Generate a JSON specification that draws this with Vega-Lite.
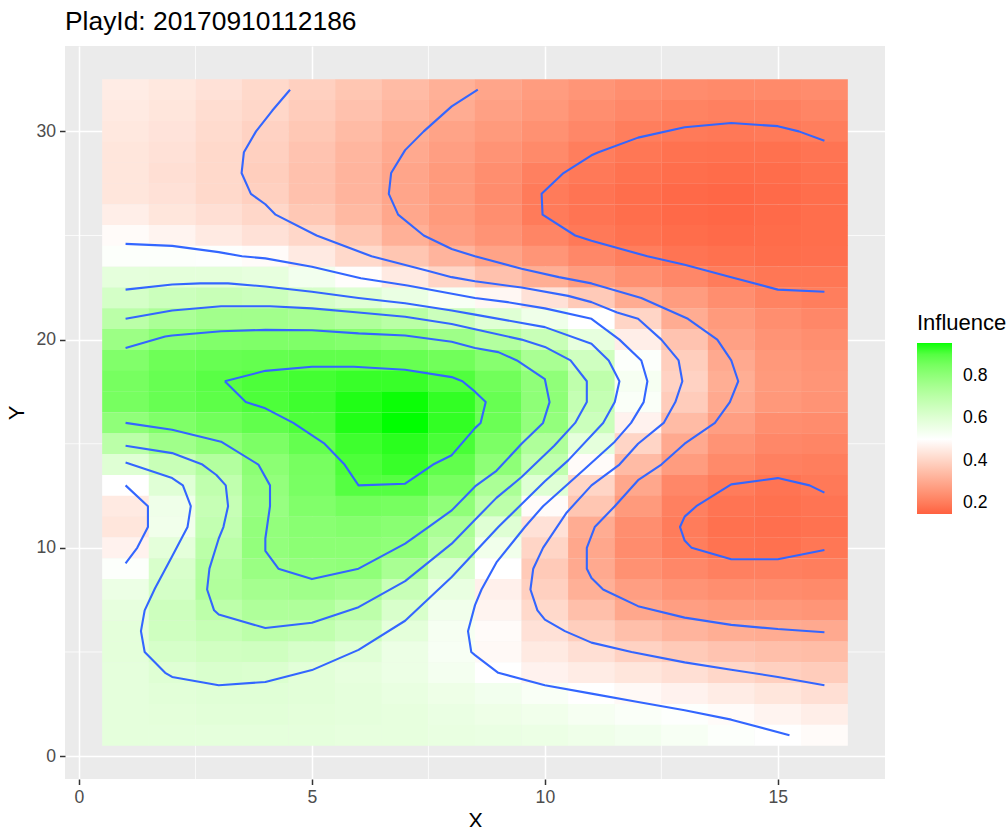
{"$schema":"https://vega.github.io/schema/vega-lite/v6.json","width":820,"height":733,"autosize":"none","padding":{"left":65,"top":46,"right":123,"bottom":48},"background":"white","title":{"text":"PlayId: 20170910112186","anchor":"start","frame":"group","font":"Liberation Sans","fontSize":26.4,"fontWeight":"normal","color":"#000000","offset":10},"config":{"font":"Liberation Sans","view":{"fill":"#EBEBEB","stroke":null}},"datasets":{"cells":[
{"x":1,"y":32,"v":0.455},{"x":2,"y":32,"v":0.445},{"x":3,"y":32,"v":0.43},{"x":4,"y":32,"v":0.41},{"x":5,"y":32,"v":0.39},{"x":6,"y":32,"v":0.365},{"x":7,"y":32,"v":0.34},{"x":8,"y":32,"v":0.315},{"x":9,"y":32,"v":0.29},{"x":10,"y":32,"v":0.27},{"x":11,"y":32,"v":0.255},{"x":12,"y":32,"v":0.24},{"x":13,"y":32,"v":0.235},{"x":14,"y":32,"v":0.23},{"x":15,"y":32,"v":0.23},{"x":16,"y":32,"v":0.235},
{"x":1,"y":31,"v":0.45},{"x":2,"y":31,"v":0.44},{"x":3,"y":31,"v":0.42},{"x":4,"y":31,"v":0.405},{"x":5,"y":31,"v":0.38},{"x":6,"y":31,"v":0.355},{"x":7,"y":31,"v":0.33},{"x":8,"y":31,"v":0.305},{"x":9,"y":31,"v":0.28},{"x":10,"y":31,"v":0.26},{"x":11,"y":31,"v":0.24},{"x":12,"y":31,"v":0.225},{"x":13,"y":31,"v":0.215},{"x":14,"y":31,"v":0.21},{"x":15,"y":31,"v":0.21},{"x":16,"y":31,"v":0.22},
{"x":1,"y":30,"v":0.445},{"x":2,"y":30,"v":0.435},{"x":3,"y":30,"v":0.415},{"x":4,"y":30,"v":0.395},{"x":5,"y":30,"v":0.37},{"x":6,"y":30,"v":0.34},{"x":7,"y":30,"v":0.31},{"x":8,"y":30,"v":0.285},{"x":9,"y":30,"v":0.265},{"x":10,"y":30,"v":0.245},{"x":11,"y":30,"v":0.225},{"x":12,"y":30,"v":0.205},{"x":13,"y":30,"v":0.197},{"x":14,"y":30,"v":0.193},{"x":15,"y":30,"v":0.196},{"x":16,"y":30,"v":0.205},
{"x":1,"y":29,"v":0.44},{"x":2,"y":29,"v":0.43},{"x":3,"y":29,"v":0.41},{"x":4,"y":29,"v":0.39},{"x":5,"y":29,"v":0.36},{"x":6,"y":29,"v":0.33},{"x":7,"y":29,"v":0.3},{"x":8,"y":29,"v":0.275},{"x":9,"y":29,"v":0.25},{"x":10,"y":29,"v":0.23},{"x":11,"y":29,"v":0.205},{"x":12,"y":29,"v":0.19},{"x":13,"y":29,"v":0.18},{"x":14,"y":29,"v":0.178},{"x":15,"y":29,"v":0.178},{"x":16,"y":29,"v":0.185},
{"x":1,"y":28,"v":0.44},{"x":2,"y":28,"v":0.425},{"x":3,"y":28,"v":0.41},{"x":4,"y":28,"v":0.385},{"x":5,"y":28,"v":0.355},{"x":6,"y":28,"v":0.325},{"x":7,"y":28,"v":0.29},{"x":8,"y":28,"v":0.265},{"x":9,"y":28,"v":0.24},{"x":10,"y":28,"v":0.21},{"x":11,"y":28,"v":0.195},{"x":12,"y":28,"v":0.18},{"x":13,"y":28,"v":0.172},{"x":14,"y":28,"v":0.168},{"x":15,"y":28,"v":0.17},{"x":16,"y":28,"v":0.178},
{"x":1,"y":27,"v":0.44},{"x":2,"y":27,"v":0.43},{"x":3,"y":27,"v":0.41},{"x":4,"y":27,"v":0.39},{"x":5,"y":27,"v":0.355},{"x":6,"y":27,"v":0.325},{"x":7,"y":27,"v":0.29},{"x":8,"y":27,"v":0.265},{"x":9,"y":27,"v":0.235},{"x":10,"y":27,"v":0.198},{"x":11,"y":27,"v":0.185},{"x":12,"y":27,"v":0.172},{"x":13,"y":27,"v":0.163},{"x":14,"y":27,"v":0.16},{"x":15,"y":27,"v":0.165},{"x":16,"y":27,"v":0.172},
{"x":1,"y":26,"v":0.46},{"x":2,"y":26,"v":0.44},{"x":3,"y":26,"v":0.425},{"x":4,"y":26,"v":0.405},{"x":5,"y":26,"v":0.37},{"x":6,"y":26,"v":0.335},{"x":7,"y":26,"v":0.295},{"x":8,"y":26,"v":0.265},{"x":9,"y":26,"v":0.24},{"x":10,"y":26,"v":0.198},{"x":11,"y":26,"v":0.185},{"x":12,"y":26,"v":0.172},{"x":13,"y":26,"v":0.163},{"x":14,"y":26,"v":0.16},{"x":15,"y":26,"v":0.165},{"x":16,"y":26,"v":0.172},
{"x":1,"y":25,"v":0.49},{"x":2,"y":25,"v":0.475},{"x":3,"y":25,"v":0.45},{"x":4,"y":25,"v":0.43},{"x":5,"y":25,"v":0.405},{"x":6,"y":25,"v":0.365},{"x":7,"y":25,"v":0.315},{"x":8,"y":25,"v":0.275},{"x":9,"y":25,"v":0.25},{"x":10,"y":25,"v":0.22},{"x":11,"y":25,"v":0.195},{"x":12,"y":25,"v":0.18},{"x":13,"y":25,"v":0.17},{"x":14,"y":25,"v":0.165},{"x":15,"y":25,"v":0.168},{"x":16,"y":25,"v":0.172},
{"x":1,"y":24,"v":0.51},{"x":2,"y":24,"v":0.51},{"x":3,"y":24,"v":0.505},{"x":4,"y":24,"v":0.49},{"x":5,"y":24,"v":0.45},{"x":6,"y":24,"v":0.41},{"x":7,"y":24,"v":0.365},{"x":8,"y":24,"v":0.325},{"x":9,"y":24,"v":0.285},{"x":10,"y":24,"v":0.255},{"x":11,"y":24,"v":0.225},{"x":12,"y":24,"v":0.205},{"x":13,"y":24,"v":0.185},{"x":14,"y":24,"v":0.178},{"x":15,"y":24,"v":0.172},{"x":16,"y":24,"v":0.175},
{"x":1,"y":23,"v":0.58},{"x":2,"y":23,"v":0.585},{"x":3,"y":23,"v":0.585},{"x":4,"y":23,"v":0.575},{"x":5,"y":23,"v":0.54},{"x":6,"y":23,"v":0.495},{"x":7,"y":23,"v":0.45},{"x":8,"y":23,"v":0.4},{"x":9,"y":23,"v":0.355},{"x":10,"y":23,"v":0.31},{"x":11,"y":23,"v":0.27},{"x":12,"y":23,"v":0.245},{"x":13,"y":23,"v":0.225},{"x":14,"y":23,"v":0.2},{"x":15,"y":23,"v":0.19},{"x":16,"y":23,"v":0.19},
{"x":1,"y":22,"v":0.63},{"x":2,"y":22,"v":0.655},{"x":3,"y":22,"v":0.665},{"x":4,"y":22,"v":0.655},{"x":5,"y":22,"v":0.625},{"x":6,"y":22,"v":0.6},{"x":7,"y":22,"v":0.565},{"x":8,"y":22,"v":0.525},{"x":9,"y":22,"v":0.48},{"x":10,"y":22,"v":0.43},{"x":11,"y":22,"v":0.375},{"x":12,"y":22,"v":0.305},{"x":13,"y":22,"v":0.27},{"x":14,"y":22,"v":0.24},{"x":15,"y":22,"v":0.215},{"x":16,"y":22,"v":0.205},
{"x":1,"y":21,"v":0.7},{"x":2,"y":21,"v":0.74},{"x":3,"y":21,"v":0.76},{"x":4,"y":21,"v":0.76},{"x":5,"y":21,"v":0.75},{"x":6,"y":21,"v":0.73},{"x":7,"y":21,"v":0.705},{"x":8,"y":21,"v":0.655},{"x":9,"y":21,"v":0.6},{"x":10,"y":21,"v":0.55},{"x":11,"y":21,"v":0.5},{"x":12,"y":21,"v":0.4},{"x":13,"y":21,"v":0.305},{"x":14,"y":21,"v":0.265},{"x":15,"y":21,"v":0.24},{"x":16,"y":21,"v":0.225},
{"x":1,"y":20,"v":0.775},{"x":2,"y":20,"v":0.815},{"x":3,"y":20,"v":0.83},{"x":4,"y":20,"v":0.835},{"x":5,"y":20,"v":0.835},{"x":6,"y":20,"v":0.825},{"x":7,"y":20,"v":0.81},{"x":8,"y":20,"v":0.77},{"x":9,"y":20,"v":0.72},{"x":10,"y":20,"v":0.665},{"x":11,"y":20,"v":0.575},{"x":12,"y":20,"v":0.46},{"x":13,"y":20,"v":0.36},{"x":14,"y":20,"v":0.28},{"x":15,"y":20,"v":0.25},{"x":16,"y":20,"v":0.24},
{"x":1,"y":19,"v":0.83},{"x":2,"y":19,"v":0.865},{"x":3,"y":19,"v":0.875},{"x":4,"y":19,"v":0.88},{"x":5,"y":19,"v":0.885},{"x":6,"y":19,"v":0.885},{"x":7,"y":19,"v":0.875},{"x":8,"y":19,"v":0.86},{"x":9,"y":19,"v":0.82},{"x":10,"y":19,"v":0.745},{"x":11,"y":19,"v":0.645},{"x":12,"y":19,"v":0.51},{"x":13,"y":19,"v":0.385},{"x":14,"y":19,"v":0.3},{"x":15,"y":19,"v":0.26},{"x":16,"y":19,"v":0.25},
{"x":1,"y":18,"v":0.85},{"x":2,"y":18,"v":0.875},{"x":3,"y":18,"v":0.895},{"x":4,"y":18,"v":0.91},{"x":5,"y":18,"v":0.92},{"x":6,"y":18,"v":0.93},{"x":7,"y":18,"v":0.93},{"x":8,"y":18,"v":0.905},{"x":9,"y":18,"v":0.86},{"x":10,"y":18,"v":0.8},{"x":11,"y":18,"v":0.69},{"x":12,"y":18,"v":0.53},{"x":13,"y":18,"v":0.395},{"x":14,"y":18,"v":0.31},{"x":15,"y":18,"v":0.265},{"x":16,"y":18,"v":0.255},
{"x":1,"y":17,"v":0.85},{"x":2,"y":17,"v":0.875},{"x":3,"y":17,"v":0.89},{"x":4,"y":17,"v":0.91},{"x":5,"y":17,"v":0.925},{"x":6,"y":17,"v":0.945},{"x":7,"y":17,"v":0.952},{"x":8,"y":17,"v":0.935},{"x":9,"y":17,"v":0.875},{"x":10,"y":17,"v":0.805},{"x":11,"y":17,"v":0.675},{"x":12,"y":17,"v":0.515},{"x":13,"y":17,"v":0.38},{"x":14,"y":17,"v":0.3},{"x":15,"y":17,"v":0.26},{"x":16,"y":17,"v":0.25},
{"x":1,"y":16,"v":0.8},{"x":2,"y":16,"v":0.835},{"x":3,"y":16,"v":0.86},{"x":4,"y":16,"v":0.885},{"x":5,"y":16,"v":0.91},{"x":6,"y":16,"v":0.945},{"x":7,"y":16,"v":0.954},{"x":8,"y":16,"v":0.935},{"x":9,"y":16,"v":0.87},{"x":10,"y":16,"v":0.795},{"x":11,"y":16,"v":0.655},{"x":12,"y":16,"v":0.47},{"x":13,"y":16,"v":0.34},{"x":14,"y":16,"v":0.275},{"x":15,"y":16,"v":0.24},{"x":16,"y":16,"v":0.235},
{"x":1,"y":15,"v":0.7},{"x":2,"y":15,"v":0.765},{"x":3,"y":15,"v":0.8},{"x":4,"y":15,"v":0.84},{"x":5,"y":15,"v":0.88},{"x":6,"y":15,"v":0.925},{"x":7,"y":15,"v":0.94},{"x":8,"y":15,"v":0.915},{"x":9,"y":15,"v":0.84},{"x":10,"y":15,"v":0.73},{"x":11,"y":15,"v":0.58},{"x":12,"y":15,"v":0.4},{"x":13,"y":15,"v":0.3},{"x":14,"y":15,"v":0.25},{"x":15,"y":15,"v":0.225},{"x":16,"y":15,"v":0.22},
{"x":1,"y":14,"v":0.6},{"x":2,"y":14,"v":0.665},{"x":3,"y":14,"v":0.72},{"x":4,"y":14,"v":0.81},{"x":5,"y":14,"v":0.85},{"x":6,"y":14,"v":0.91},{"x":7,"y":14,"v":0.93},{"x":8,"y":14,"v":0.885},{"x":9,"y":14,"v":0.805},{"x":10,"y":14,"v":0.685},{"x":11,"y":14,"v":0.49},{"x":12,"y":14,"v":0.34},{"x":13,"y":14,"v":0.27},{"x":14,"y":14,"v":0.23},{"x":15,"y":14,"v":0.21},{"x":16,"y":14,"v":0.205},
{"x":1,"y":13,"v":0.5},{"x":2,"y":13,"v":0.595},{"x":3,"y":13,"v":0.685},{"x":4,"y":13,"v":0.795},{"x":5,"y":13,"v":0.845},{"x":6,"y":13,"v":0.9},{"x":7,"y":13,"v":0.9},{"x":8,"y":13,"v":0.85},{"x":9,"y":13,"v":0.74},{"x":10,"y":13,"v":0.6},{"x":11,"y":13,"v":0.4},{"x":12,"y":13,"v":0.295},{"x":13,"y":13,"v":0.225},{"x":14,"y":13,"v":0.2},{"x":15,"y":13,"v":0.185},{"x":16,"y":13,"v":0.195},
{"x":1,"y":12,"v":0.45},{"x":2,"y":12,"v":0.55},{"x":3,"y":12,"v":0.67},{"x":4,"y":12,"v":0.785},{"x":5,"y":12,"v":0.83},{"x":6,"y":12,"v":0.855},{"x":7,"y":12,"v":0.85},{"x":8,"y":12,"v":0.8},{"x":9,"y":12,"v":0.695},{"x":10,"y":12,"v":0.49},{"x":11,"y":12,"v":0.365},{"x":12,"y":12,"v":0.265},{"x":13,"y":12,"v":0.21},{"x":14,"y":12,"v":0.185},{"x":15,"y":12,"v":0.178},{"x":16,"y":12,"v":0.185},
{"x":1,"y":11,"v":0.44},{"x":2,"y":11,"v":0.545},{"x":3,"y":11,"v":0.68},{"x":4,"y":11,"v":0.795},{"x":5,"y":11,"v":0.815},{"x":6,"y":11,"v":0.825},{"x":7,"y":11,"v":0.815},{"x":8,"y":11,"v":0.74},{"x":9,"y":11,"v":0.6},{"x":10,"y":11,"v":0.43},{"x":11,"y":11,"v":0.305},{"x":12,"y":11,"v":0.24},{"x":13,"y":11,"v":0.2},{"x":14,"y":11,"v":0.178},{"x":15,"y":11,"v":0.175},{"x":16,"y":11,"v":0.18},
{"x":1,"y":10,"v":0.47},{"x":2,"y":10,"v":0.585},{"x":3,"y":10,"v":0.7},{"x":4,"y":10,"v":0.795},{"x":5,"y":10,"v":0.81},{"x":6,"y":10,"v":0.81},{"x":7,"y":10,"v":0.8},{"x":8,"y":10,"v":0.71},{"x":9,"y":10,"v":0.545},{"x":10,"y":10,"v":0.4},{"x":11,"y":10,"v":0.295},{"x":12,"y":10,"v":0.235},{"x":13,"y":10,"v":0.205},{"x":14,"y":10,"v":0.182},{"x":15,"y":10,"v":0.178},{"x":16,"y":10,"v":0.19},
{"x":1,"y":9,"v":0.51},{"x":2,"y":9,"v":0.62},{"x":3,"y":9,"v":0.72},{"x":4,"y":9,"v":0.78},{"x":5,"y":9,"v":0.795},{"x":6,"y":9,"v":0.8},{"x":7,"y":9,"v":0.745},{"x":8,"y":9,"v":0.615},{"x":9,"y":9,"v":0.5},{"x":10,"y":9,"v":0.375},{"x":11,"y":9,"v":0.3},{"x":12,"y":9,"v":0.245},{"x":13,"y":9,"v":0.225},{"x":14,"y":9,"v":0.21},{"x":15,"y":9,"v":0.21},{"x":16,"y":9,"v":0.205},
{"x":1,"y":8,"v":0.56},{"x":2,"y":8,"v":0.63},{"x":3,"y":8,"v":0.725},{"x":4,"y":8,"v":0.755},{"x":5,"y":8,"v":0.765},{"x":6,"y":8,"v":0.75},{"x":7,"y":8,"v":0.665},{"x":8,"y":8,"v":0.57},{"x":9,"y":8,"v":0.465},{"x":10,"y":8,"v":0.39},{"x":11,"y":8,"v":0.315},{"x":12,"y":8,"v":0.275},{"x":13,"y":8,"v":0.25},{"x":14,"y":8,"v":0.24},{"x":15,"y":8,"v":0.235},{"x":16,"y":8,"v":0.23},
{"x":1,"y":7,"v":0.575},{"x":2,"y":7,"v":0.65},{"x":3,"y":7,"v":0.695},{"x":4,"y":7,"v":0.73},{"x":5,"y":7,"v":0.73},{"x":6,"y":7,"v":0.695},{"x":7,"y":7,"v":0.62},{"x":8,"y":7,"v":0.545},{"x":9,"y":7,"v":0.475},{"x":10,"y":7,"v":0.41},{"x":11,"y":7,"v":0.35},{"x":12,"y":7,"v":0.295},{"x":13,"y":7,"v":0.275},{"x":14,"y":7,"v":0.265},{"x":15,"y":7,"v":0.26},{"x":16,"y":7,"v":0.255},
{"x":1,"y":6,"v":0.585},{"x":2,"y":6,"v":0.645},{"x":3,"y":6,"v":0.67},{"x":4,"y":6,"v":0.695},{"x":5,"y":6,"v":0.685},{"x":6,"y":6,"v":0.655},{"x":7,"y":6,"v":0.585},{"x":8,"y":6,"v":0.53},{"x":9,"y":6,"v":0.49},{"x":10,"y":6,"v":0.43},{"x":11,"y":6,"v":0.385},{"x":12,"y":6,"v":0.35},{"x":13,"y":6,"v":0.325},{"x":14,"y":6,"v":0.31},{"x":15,"y":6,"v":0.305},{"x":16,"y":6,"v":0.3},
{"x":1,"y":5,"v":0.585},{"x":2,"y":5,"v":0.625},{"x":3,"y":5,"v":0.64},{"x":4,"y":5,"v":0.645},{"x":5,"y":5,"v":0.625},{"x":6,"y":5,"v":0.595},{"x":7,"y":5,"v":0.56},{"x":8,"y":5,"v":0.525},{"x":9,"y":5,"v":0.485},{"x":10,"y":5,"v":0.45},{"x":11,"y":5,"v":0.425},{"x":12,"y":5,"v":0.395},{"x":13,"y":5,"v":0.375},{"x":14,"y":5,"v":0.36},{"x":15,"y":5,"v":0.35},{"x":16,"y":5,"v":0.345},
{"x":1,"y":4,"v":0.58},{"x":2,"y":4,"v":0.6},{"x":3,"y":4,"v":0.615},{"x":4,"y":4,"v":0.61},{"x":5,"y":4,"v":0.59},{"x":6,"y":4,"v":0.575},{"x":7,"y":4,"v":0.56},{"x":8,"y":4,"v":0.535},{"x":9,"y":4,"v":0.5},{"x":10,"y":4,"v":0.47},{"x":11,"y":4,"v":0.455},{"x":12,"y":4,"v":0.44},{"x":13,"y":4,"v":0.425},{"x":14,"y":4,"v":0.405},{"x":15,"y":4,"v":0.39},{"x":16,"y":4,"v":0.38},
{"x":1,"y":3,"v":0.58},{"x":2,"y":3,"v":0.59},{"x":3,"y":3,"v":0.595},{"x":4,"y":3,"v":0.595},{"x":5,"y":3,"v":0.59},{"x":6,"y":3,"v":0.58},{"x":7,"y":3,"v":0.57},{"x":8,"y":3,"v":0.555},{"x":9,"y":3,"v":0.54},{"x":10,"y":3,"v":0.52},{"x":11,"y":3,"v":0.5},{"x":12,"y":3,"v":0.485},{"x":13,"y":3,"v":0.47},{"x":14,"y":3,"v":0.455},{"x":15,"y":3,"v":0.44},{"x":16,"y":3,"v":0.425},
{"x":1,"y":2,"v":0.58},{"x":2,"y":2,"v":0.585},{"x":3,"y":2,"v":0.59},{"x":4,"y":2,"v":0.59},{"x":5,"y":2,"v":0.585},{"x":6,"y":2,"v":0.58},{"x":7,"y":2,"v":0.575},{"x":8,"y":2,"v":0.565},{"x":9,"y":2,"v":0.555},{"x":10,"y":2,"v":0.545},{"x":11,"y":2,"v":0.53},{"x":12,"y":2,"v":0.515},{"x":13,"y":2,"v":0.505},{"x":14,"y":2,"v":0.49},{"x":15,"y":2,"v":0.475},{"x":16,"y":2,"v":0.46},
{"x":1,"y":1,"v":0.58},{"x":2,"y":1,"v":0.58},{"x":3,"y":1,"v":0.58},{"x":4,"y":1,"v":0.58},{"x":5,"y":1,"v":0.58},{"x":6,"y":1,"v":0.575},{"x":7,"y":1,"v":0.575},{"x":8,"y":1,"v":0.57},{"x":9,"y":1,"v":0.565},{"x":10,"y":1,"v":0.56},{"x":11,"y":1,"v":0.55},{"x":12,"y":1,"v":0.54},{"x":13,"y":1,"v":0.525},{"x":14,"y":1,"v":0.51},{"x":15,"y":1,"v":0.5},{"x":16,"y":1,"v":0.49}
],"contours":[
{"g":"0.2a","x":16,"y":29.55},{"g":"0.2a","x":15.45,"y":30},{"g":"0.2a","x":15,"y":30.25},{"g":"0.2a","x":14,"y":30.4},{"g":"0.2a","x":13,"y":30.2},{"g":"0.2a","x":12,"y":29.7},{"g":"0.2a","x":11.15,"y":29},{"g":"0.2a","x":11,"y":28.85},{"g":"0.2a","x":10.4,"y":28},{"g":"0.2a","x":9.93,"y":27},{"g":"0.2a","x":9.95,"y":26},{"g":"0.2a","x":10.65,"y":25},{"g":"0.2a","x":11,"y":24.75},{"g":"0.2a","x":12.2,"y":24},{"g":"0.2a","x":13,"y":23.6},{"g":"0.2a","x":14,"y":23},{"g":"0.2a","x":15,"y":22.4},{"g":"0.2a","x":16,"y":22.3},
{"g":"0.2b","x":16,"y":12.65},{"g":"0.2b","x":15.68,"y":13},{"g":"0.2b","x":15,"y":13.35},{"g":"0.2b","x":14,"y":13.05},{"g":"0.2b","x":13.25,"y":12},{"g":"0.2b","x":13,"y":11.5},{"g":"0.2b","x":12.9,"y":11},{"g":"0.2b","x":13,"y":10.35},{"g":"0.2b","x":13.15,"y":10},{"g":"0.2b","x":14,"y":9.45},{"g":"0.2b","x":15,"y":9.45},{"g":"0.2b","x":16,"y":9.9},
{"g":"0.3","x":8.56,"y":32},{"g":"0.3","x":8,"y":31.2},{"g":"0.3","x":7.4,"y":30},{"g":"0.3","x":7,"y":29.1},{"g":"0.3","x":6.7,"y":28},{"g":"0.3","x":6.65,"y":27},{"g":"0.3","x":6.85,"y":26},{"g":"0.3","x":7.4,"y":25},{"g":"0.3","x":8,"y":24.35},{"g":"0.3","x":8.5,"y":24},{"g":"0.3","x":9.5,"y":23.4},{"g":"0.3","x":10.3,"y":23},{"g":"0.3","x":11,"y":22.7},{"g":"0.3","x":12.07,"y":22},{"g":"0.3","x":13.07,"y":21},{"g":"0.3","x":13.7,"y":20},{"g":"0.3","x":14,"y":19},{"g":"0.3","x":14.15,"y":18},{"g":"0.3","x":13.97,"y":17},{"g":"0.3","x":13.65,"y":16},{"g":"0.3","x":13,"y":15},{"g":"0.3","x":12.5,"y":14},{"g":"0.3","x":12,"y":13.25},{"g":"0.3","x":11.5,"y":12},{"g":"0.3","x":11.07,"y":11},{"g":"0.3","x":10.9,"y":10},{"g":"0.3","x":10.9,"y":9},{"g":"0.3","x":11,"y":8.55},{"g":"0.3","x":11.25,"y":8},{"g":"0.3","x":12,"y":7.2},{"g":"0.3","x":13,"y":6.65},{"g":"0.3","x":14,"y":6.3},{"g":"0.3","x":15,"y":6.1},{"g":"0.3","x":16,"y":5.95},
{"g":"0.4","x":4.53,"y":32},{"g":"0.4","x":4.15,"y":31},{"g":"0.4","x":3.8,"y":30},{"g":"0.4","x":3.54,"y":29},{"g":"0.4","x":3.49,"y":28},{"g":"0.4","x":3.69,"y":27},{"g":"0.4","x":4,"y":26.5},{"g":"0.4","x":4.22,"y":26},{"g":"0.4","x":5.1,"y":25},{"g":"0.4","x":6.28,"y":24},{"g":"0.4","x":7.5,"y":23.3},{"g":"0.4","x":8,"y":23},{"g":"0.4","x":8.5,"y":22.8},{"g":"0.4","x":9.5,"y":22.5},{"g":"0.4","x":10.5,"y":22.1},{"g":"0.4","x":11,"y":21.8},{"g":"0.4","x":11.55,"y":21.3},{"g":"0.4","x":12,"y":21},{"g":"0.4","x":12.5,"y":20},{"g":"0.4","x":12.87,"y":19},{"g":"0.4","x":12.95,"y":18},{"g":"0.4","x":12.8,"y":17},{"g":"0.4","x":12.55,"y":16},{"g":"0.4","x":12,"y":15},{"g":"0.4","x":11.6,"y":14},{"g":"0.4","x":11,"y":13},{"g":"0.4","x":10.47,"y":11.7},{"g":"0.4","x":9.96,"y":10},{"g":"0.4","x":9.75,"y":9},{"g":"0.4","x":9.69,"y":8},{"g":"0.4","x":9.84,"y":7},{"g":"0.4","x":10,"y":6.55},{"g":"0.4","x":10.43,"y":6},{"g":"0.4","x":11,"y":5.45},{"g":"0.4","x":11.86,"y":5},{"g":"0.4","x":13,"y":4.5},{"g":"0.4","x":14,"y":4.15},{"g":"0.4","x":15,"y":3.8},{"g":"0.4","x":16,"y":3.4},
{"g":"0.5a","x":1,"y":24.6},{"g":"0.5a","x":2,"y":24.5},{"g":"0.5a","x":3,"y":24.2},{"g":"0.5a","x":3.5,"y":24},{"g":"0.5a","x":4,"y":23.9},{"g":"0.5a","x":5,"y":23.5},{"g":"0.5a","x":6.05,"y":22.95},{"g":"0.5a","x":7.05,"y":22.6},{"g":"0.5a","x":8.5,"y":22},{"g":"0.5a","x":9.2,"y":21.8},{"g":"0.5a","x":10,"y":21.5},{"g":"0.5a","x":11,"y":21},{"g":"0.5a","x":11.6,"y":20},{"g":"0.5a","x":12.07,"y":19},{"g":"0.5a","x":12.2,"y":18},{"g":"0.5a","x":12.12,"y":17},{"g":"0.5a","x":11.85,"y":16},{"g":"0.5a","x":11.5,"y":15.1},{"g":"0.5a","x":10.86,"y":13.8},{"g":"0.5a","x":9.96,"y":12},{"g":"0.5a","x":9.57,"y":11},{"g":"0.5a","x":8.96,"y":9.3},{"g":"0.5a","x":8.64,"y":8},{"g":"0.5a","x":8.5,"y":7.25},{"g":"0.5a","x":8.35,"y":6},{"g":"0.5a","x":8.42,"y":5},{"g":"0.5a","x":8.5,"y":4.85},{"g":"0.5a","x":9,"y":4},{"g":"0.5a","x":10,"y":3.4},{"g":"0.5a","x":11,"y":3},{"g":"0.5a","x":12,"y":2.6},{"g":"0.5a","x":13,"y":2.2},{"g":"0.5a","x":14,"y":1.75},{"g":"0.5a","x":15.25,"y":1},
{"g":"0.5b","x":1,"y":13},{"g":"0.5b","x":1.48,"y":12},{"g":"0.5b","x":1.48,"y":11},{"g":"0.5b","x":1.25,"y":10},{"g":"0.5b","x":1,"y":9.25},
{"g":"0.6","x":1,"y":22.4},{"g":"0.6","x":2,"y":22.65},{"g":"0.6","x":2.6,"y":22.7},{"g":"0.6","x":3.2,"y":22.7},{"g":"0.6","x":4,"y":22.55},{"g":"0.6","x":5,"y":22.3},{"g":"0.6","x":6,"y":22},{"g":"0.6","x":7,"y":21.75},{"g":"0.6","x":8,"y":21.4},{"g":"0.6","x":8.5,"y":21.2},{"g":"0.6","x":10,"y":20.6},{"g":"0.6","x":11,"y":19.8},{"g":"0.6","x":11.37,"y":19},{"g":"0.6","x":11.6,"y":18},{"g":"0.6","x":11.5,"y":17},{"g":"0.6","x":11.25,"y":16},{"g":"0.6","x":10.5,"y":14.2},{"g":"0.6","x":10,"y":13.2},{"g":"0.6","x":9,"y":11},{"g":"0.6","x":8.5,"y":9.8},{"g":"0.6","x":8,"y":8.6},{"g":"0.6","x":7,"y":6.5},{"g":"0.6","x":6,"y":5.1},{"g":"0.6","x":5,"y":4.13},{"g":"0.6","x":4,"y":3.56},{"g":"0.6","x":3,"y":3.4},{"g":"0.6","x":2,"y":3.8},{"g":"0.6","x":1.85,"y":4},{"g":"0.6","x":1.41,"y":5},{"g":"0.6","x":1.33,"y":6},{"g":"0.6","x":1.41,"y":7},{"g":"0.6","x":1.63,"y":8.05},{"g":"0.6","x":2,"y":9.6},{"g":"0.6","x":2.33,"y":11},{"g":"0.6","x":2.4,"y":12},{"g":"0.6","x":2.23,"y":13},{"g":"0.6","x":2,"y":13.35},{"g":"0.6","x":1,"y":14.1},
{"g":"0.7","x":1,"y":21},{"g":"0.7","x":2,"y":21.4},{"g":"0.7","x":3.05,"y":21.6},{"g":"0.7","x":4.1,"y":21.6},{"g":"0.7","x":5,"y":21.5},{"g":"0.7","x":6,"y":21.3},{"g":"0.7","x":7,"y":21.1},{"g":"0.7","x":8,"y":20.75},{"g":"0.7","x":8.5,"y":20.5},{"g":"0.7","x":9.5,"y":20},{"g":"0.7","x":10,"y":19.65},{"g":"0.7","x":10.55,"y":19},{"g":"0.7","x":10.9,"y":18},{"g":"0.7","x":10.9,"y":17},{"g":"0.7","x":10.65,"y":16},{"g":"0.7","x":10.2,"y":14.9},{"g":"0.7","x":9.5,"y":13.4},{"g":"0.7","x":8.96,"y":12.4},{"g":"0.7","x":8.5,"y":11.35},{"g":"0.7","x":8,"y":10.2},{"g":"0.7","x":7,"y":8.4},{"g":"0.7","x":6,"y":7.15},{"g":"0.7","x":5,"y":6.4},{"g":"0.7","x":4,"y":6.15},{"g":"0.7","x":3,"y":6.8},{"g":"0.7","x":2.9,"y":7},{"g":"0.7","x":2.75,"y":8},{"g":"0.7","x":2.8,"y":9},{"g":"0.7","x":3,"y":10.45},{"g":"0.7","x":3.1,"y":11},{"g":"0.7","x":3.2,"y":12},{"g":"0.7","x":3.15,"y":13},{"g":"0.7","x":2.95,"y":13.5},{"g":"0.7","x":2.65,"y":14},{"g":"0.7","x":2,"y":14.55},{"g":"0.7","x":1,"y":14.9},
{"g":"0.8","x":1,"y":19.6},{"g":"0.8","x":1.85,"y":20.15},{"g":"0.8","x":2,"y":20.2},{"g":"0.8","x":3.05,"y":20.4},{"g":"0.8","x":4,"y":20.47},{"g":"0.8","x":5,"y":20.45},{"g":"0.8","x":6,"y":20.3},{"g":"0.8","x":7,"y":20.2},{"g":"0.8","x":8,"y":19.9},{"g":"0.8","x":8.5,"y":19.6},{"g":"0.8","x":9,"y":19.4},{"g":"0.8","x":9.4,"y":19},{"g":"0.8","x":10,"y":18.1},{"g":"0.8","x":10.1,"y":17},{"g":"0.8","x":9.96,"y":16},{"g":"0.8","x":9.5,"y":15},{"g":"0.8","x":8.96,"y":13.7},{"g":"0.8","x":8.5,"y":12.95},{"g":"0.8","x":8,"y":11.8},{"g":"0.8","x":7.5,"y":11},{"g":"0.8","x":7,"y":10.2},{"g":"0.8","x":6,"y":9},{"g":"0.8","x":5,"y":8.5},{"g":"0.8","x":4.28,"y":9},{"g":"0.8","x":4,"y":9.85},{"g":"0.8","x":4,"y":10.45},{"g":"0.8","x":4.1,"y":12},{"g":"0.8","x":4.1,"y":13},{"g":"0.8","x":3.85,"y":14},{"g":"0.8","x":3.05,"y":15.1},{"g":"0.8","x":2,"y":15.67},{"g":"0.8","x":1,"y":16},
{"g":"0.9","x":3.13,"y":18},{"g":"0.9","x":4,"y":18.5},{"g":"0.9","x":5,"y":18.7},{"g":"0.9","x":5.9,"y":18.7},{"g":"0.9","x":7,"y":18.55},{"g":"0.9","x":8,"y":18.2},{"g":"0.9","x":8.23,"y":18},{"g":"0.9","x":8.5,"y":17.5},{"g":"0.9","x":8.73,"y":17},{"g":"0.9","x":8.62,"y":16},{"g":"0.9","x":8.5,"y":15.75},{"g":"0.9","x":8,"y":14.45},{"g":"0.9","x":7.6,"y":14},{"g":"0.9","x":7,"y":13.08},{"g":"0.9","x":6,"y":13},{"g":"0.9","x":5.7,"y":14},{"g":"0.9","x":5.27,"y":15},{"g":"0.9","x":4.6,"y":16},{"g":"0.9","x":4,"y":16.7},{"g":"0.9","x":3.58,"y":17},{"g":"0.9","x":3.13,"y":18}
],"minorX":[{"m":2.5},{"m":7.5},{"m":12.5}],"minorY":[{"m":5},{"m":15},{"m":25}]},
"layer":[
{"data":{"name":"minorX"},"mark":{"type":"rule","color":"#FFFFFF","strokeWidth":0.75},"encoding":{"x":{"field":"m","type":"quantitative","scale":{"domain":[-0.3,17.3],"nice":false,"zero":false}}}},
{"data":{"name":"minorY"},"mark":{"type":"rule","color":"#FFFFFF","strokeWidth":0.75},"encoding":{"y":{"field":"m","type":"quantitative","scale":{"domain":[-1.1,34.1],"nice":false,"zero":false}}}},
{"data":{"name":"cells"},"mark":{"type":"rect","width":46.8,"height":21},"encoding":{
"x":{"field":"x","type":"quantitative","scale":{"domain":[-0.3,17.3],"nice":false,"zero":false},"axis":{"values":[0,5,10,15],"title":"X","grid":true,"gridColor":"#FFFFFF","gridWidth":1.5,"domain":false,"tickColor":"#333333","tickWidth":1.5,"tickSize":5.5,"labelColor":"#4D4D4D","labelFontSize":17.6,"labelFont":"Liberation Sans","labelPadding":4,"titleFont":"Liberation Sans","titleFontSize":22,"titleFontWeight":"normal","titleColor":"#000000","titlePadding":4}},
"y":{"field":"y","type":"quantitative","scale":{"domain":[-1.1,34.1],"nice":false,"zero":false},"axis":{"values":[0,10,20,30],"title":"Y","grid":true,"gridColor":"#FFFFFF","gridWidth":1.5,"domain":false,"tickColor":"#333333","tickWidth":1.5,"tickSize":5.5,"labelColor":"#4D4D4D","labelFontSize":17.6,"labelFont":"Liberation Sans","labelPadding":4,"titleFont":"Liberation Sans","titleFontSize":22,"titleFontWeight":"normal","titleColor":"#000000","titlePadding":7}},
"color":{"field":"v","type":"quantitative","scale":{"domain":[0.148,0.5,0.954],"range":["#FF6140","#FFFFFF","#00FF00"],"interpolate":"lab"},"legend":{"title":"Influence","orient":"none","legendX":852,"legendY":267,"values":[0.2,0.4,0.6,0.8],"direction":"vertical","gradientLength":171,"gradientThickness":35,"gradientStrokeWidth":0,"titleFont":"Liberation Sans","titleFontSize":22,"titleFontWeight":"normal","titleColor":"#000000","titlePadding":8,"labelFont":"Liberation Sans","labelFontSize":17.6,"labelColor":"#000000","labelOffset":11,"format":".1f"}}}},
{"data":{"name":"contours"},"mark":{"type":"line","color":"#3366FF","strokeWidth":2.1,"strokeJoin":"round"},"encoding":{"x":{"field":"x","type":"quantitative"},"y":{"field":"y","type":"quantitative"},"detail":{"field":"g"},"order":{"value":null}}}
]}
